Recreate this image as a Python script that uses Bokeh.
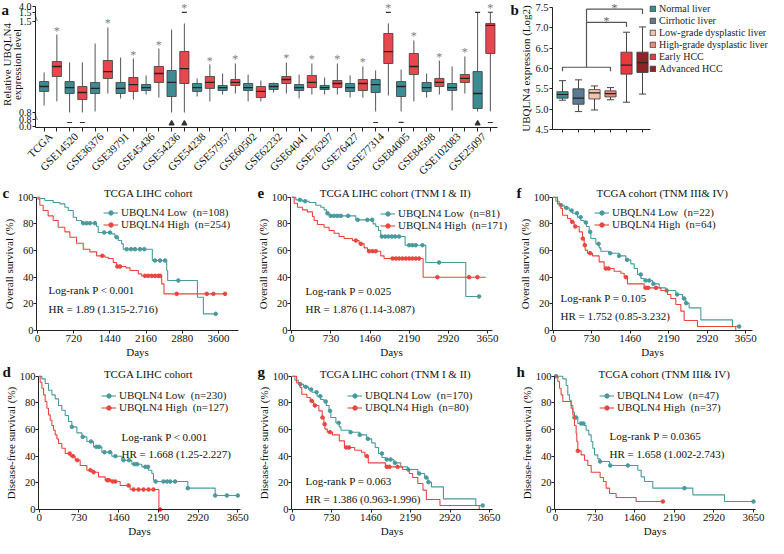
import numpy as np
from math import pi
from bokeh.plotting import figure
from bokeh.models import (FixedTicker, Label, Legend, LegendItem, PrintfTickFormatter,
                          ColumnDataSource)
from bokeh.layouts import row, column
from bokeh.embed import file_html
from bokeh.resources import INLINE
from bokeh.core.properties import value

FONT = "Liberation Serif"
TEAL = "#3d8c93"
RED = "#e8484d"
KM_TEAL = "#4a9a9c"
KM_RED = "#e8463f"

# ---------------- panel a data (relative UBQLN4 expression) ----------------
DATASETS = ["TCGA", "GSE14520", "GSE36376", "GSE39791", "GSE45436", "GSE54236",
            "GSE54238", "GSE57957", "GSE60502", "GSE62232", "GSE64041", "GSE76297",
            "GSE76427", "GSE77314", "GSE84005", "GSE84598", "GSE102083", "GSE25097"]
NORMAL_LO = [0.854, 0.800, 0.808, 0.908, 0.938, 0.800, 0.923, 0.938, 0.885, 0.954,
             0.908, 0.938, 0.915, 0.808, 0.808, 0.915, 0.815, 0.808]
NORMAL_Q1 = [0.962, 0.946, 0.946, 0.946, 0.969, 0.923, 0.962, 0.969, 0.969, 0.977,
             0.969, 0.977, 0.962, 0.954, 0.923, 0.962, 0.969, 0.831]
NORMAL_MED = [1.000, 0.992, 0.985, 0.985, 0.992, 1.031, 0.992, 0.992, 0.992, 1.000,
              0.992, 0.992, 0.992, 1.015, 1.000, 0.992, 0.992, 0.946]
NORMAL_Q3 = [1.038, 1.038, 1.031, 1.031, 1.015, 1.123, 1.023, 1.008, 1.023, 1.023,
             1.015, 1.008, 1.023, 1.054, 1.038, 1.031, 1.023, 1.115]
NORMAL_HI = [1.108, 1.185, 1.331, 1.223, 1.085, 1.438, 1.062, 1.100, 1.092, 1.031,
             1.092, 1.069, 1.085, 1.123, 1.131, 1.100, 1.154, 1.52]
TUMOR_LO = [0.885, 0.800, 0.946, 0.900, 0.915, 0.800, 0.885, 0.946, 0.885, 0.946,
            0.938, 0.938, 0.915, 0.931, 0.885, 0.938, 0.946, 0.808]
TUMOR_Q1 = [1.077, 0.900, 1.062, 0.962, 1.031, 1.023, 0.985, 1.008, 0.915, 1.023,
            0.992, 0.992, 0.969, 1.177, 1.092, 1.000, 1.031, 1.254]
TUMOR_MED = [1.154, 0.954, 1.115, 1.015, 1.100, 1.138, 1.031, 1.031, 0.962, 1.054,
             1.031, 1.023, 1.023, 1.269, 1.154, 1.031, 1.062, 1.470]
TUMOR_Q3 = [1.192, 1.000, 1.200, 1.069, 1.154, 1.269, 1.077, 1.054, 1.000, 1.077,
            1.085, 1.046, 1.054, 1.408, 1.254, 1.062, 1.092, 1.485]
TUMOR_HI = [1.400, 1.185, 1.454, 1.215, 1.292, 1.485, 1.169, 1.177, 1.046, 1.185,
            1.177, 1.177, 1.154, 1.485, 1.354, 1.200, 1.231, 1.52]
SIGNIF = [True, False, True, True, True, True, True, True, False, True,
          True, True, True, True, True, True, True, True]
OUT_DATASET = [1, 1, 5, 5, 5, 13, 13, 14, 17, 17, 17, 17]
OUT_GROUP = ["N", "T", "N", "T", "T", "N", "T", "N", "N", "N", "T", "T"]
OUT_VALUE = [0.46, 0.46, 0.34, 0.34, 1.55, 0.46, 1.55, 0.47, 0.34, 1.55, 0.46, 1.60]
OUT_MARKER = ["dash", "dash", "triangle", "triangle", "dash", "dash", "dash", "dash",
              "triangle", "dash", "dash", "dash"]
A_TICK_LABELS = ["0.0", "0.8", "0.8", "1.5", "1.5", "4.0"]

# ---------------- panel b data ----------------
B_GROUPS = ["Normal liver", "Cirrhotic liver", "Low-grade dysplastic liver",
            "High-grade dysplastic liver", "Early HCC", "Advanced HCC"]
B_LO = [5.22, 4.94, 4.98, 5.23, 5.17, 5.37]
B_Q1 = [5.27, 5.12, 5.25, 5.30, 5.86, 5.90]
B_MED = [5.36, 5.27, 5.40, 5.38, 6.08, 6.14]
B_Q3 = [5.43, 5.50, 5.48, 5.45, 6.40, 6.40]
B_HI = [5.70, 5.72, 5.57, 5.53, 6.89, 7.02]
B_COLORS = ["#3a8c90", "#5a7a95", "#f5c2ad", "#e98c77", "#e8393e", "#8d2527"]

# ---------------- Kaplan-Meier data (days, survival %) ----------------
C_LOW_T = [45, 146, 312, 445, 545, 611, 711, 777, 877, 1176, 1209, 1475, 1541, 1607, 1674,
           1707, 2285, 2571, 2590, 3182, 3301, 3547]
C_LOW_S = [99, 97.5, 96, 95, 92.5, 90, 85, 82.5, 80.5, 78, 73.5, 72.5, 70, 67.5, 65,
           61, 52.5, 45, 37.5, 25, 12.5, 12.5]
C_LOW_CENS = [910, 976, 1043, 1142, 1328, 1441, 1574, 1773, 1860, 1939, 2039, 2125, 2338,
              2438, 2537, 2803, 3547]
C_HIGH_T = [10, 46, 113, 212, 312, 412, 545, 644, 777, 910, 1043, 1176, 1342, 1408, 1508,
            1574, 1760, 1840, 2006, 2072, 2471, 2517, 3733]
C_HIGH_S = [98.5, 94, 90, 86, 82.5, 77.5, 74, 70, 65.5, 61, 59, 56, 55, 54, 51,
            48, 47, 45, 42.5, 41, 35, 27.5, 27.5]
C_HIGH_CENS = [1290, 1590, 1641, 2139, 2205, 2272, 2338, 2405, 2440, 2770, 3368, 3500, 3733]

E_LOW_T = [75, 199, 323, 448, 541, 603, 647, 696, 1194, 1517, 1567, 1617, 1660, 2114, 2500,
           3246, 3495]
E_LOW_S = [98, 97, 96, 94, 92.5, 90.5, 88, 86, 83, 80, 78, 75, 70.5, 64, 51, 25.5, 25.5]
E_LOW_CENS = [150, 250, 665, 727, 790, 852, 915, 1051, 1230, 1411, 1500, 1680, 1741, 1803,
              1865, 1927, 2002, 2189, 2251, 2313, 2438, 2748, 3495]
E_HIGH_T = [44, 106, 199, 292, 386, 417, 479, 603, 696, 790, 883, 976, 1132, 1256, 1349,
            1412, 1660, 1722, 2450, 3619]
E_HIGH_S = [95.5, 92.5, 90.5, 89, 85.5, 82.5, 79.5, 77.5, 75, 73, 70.5, 69, 67.5, 65, 62,
            59.5, 56, 54, 40, 40]
E_HIGH_CENS = [1194, 1290, 1442, 1505, 1567, 1878, 1940, 2002, 2065, 2127, 2189, 2251, 2313,
               2375, 2717, 3308, 3463]

F_LOW_T = [51, 114, 208, 303, 366, 461, 524, 587, 631, 682, 714, 808, 871, 903, 1061, 1250,
           1377, 1471, 1535, 1598, 1661, 1724, 1882, 2008, 2134, 2324, 2450, 2513, 2576,
           2798, 3397, 3524]
F_LOW_S = [97, 94, 92, 90, 88, 85, 82.5, 81, 78, 74, 69, 65, 62, 59.5, 58, 56,
           53, 50, 46.5, 42, 39, 37.5, 35, 32, 30, 27, 24, 20.5, 17, 8, 3, 3]
F_LOW_CENS = [150, 250, 350, 450, 520, 620, 700, 860, 1080, 1250, 1400, 1660, 1750, 1820,
              1900, 2150, 2350, 2480, 2520, 3524]
F_HIGH_T = [82, 145, 177, 272, 335, 398, 493, 556, 587, 606, 650, 745, 871, 966, 1156, 1282,
            1345, 1408, 1724, 2040, 2166, 2229, 2324, 2419, 2482, 2734, 3460, 3520]
F_HIGH_S = [95, 91.5, 86.5, 84, 81.5, 78, 74, 69, 64, 60.3, 58, 56, 51.5, 46.5, 44.5, 43,
            40, 35, 32, 30, 27, 24, 19.5, 14.5, 7.5, 3, 0, 0]
F_HIGH_CENS = [360, 420, 560, 600, 700, 1000, 1050, 1380, 1750, 1800, 1950]

D_LOW_T = [49, 110, 171, 233, 294, 355, 416, 478, 539, 600, 692, 784, 876, 998, 1151, 1335,
           1519, 1702, 1886, 2009, 2070, 2100, 2131, 2731, 3234, 3650]
D_LOW_S = [98, 94.5, 89.5, 86, 83, 78, 74.5, 70.5, 66, 62, 57.5, 54.5, 51, 47, 43, 40,
           37, 34, 32, 29.5, 27, 22, 21, 16, 10.5, 10.5]
D_LOW_CENS = [600, 800, 950, 1050, 1100, 1200, 1300, 1400, 1550, 1650, 1750, 1800, 1950,
              2000, 2140, 2284, 2350, 2407, 2498, 2731, 3234, 3448, 3650]
D_HIGH_T = [18, 49, 80, 110, 141, 171, 202, 233, 263, 294, 325, 355, 416, 478, 570, 661,
            753, 876, 998, 1090, 1213, 1335, 1488, 1672, 2200, 2223]
D_HIGH_S = [95.5, 91, 86, 81, 76, 71, 67, 63, 59.5, 56, 53, 49.5, 46, 42, 40, 37,
            33, 29.5, 28, 24.5, 22, 21, 18, 15, 0, 0]
D_HIGH_CENS = [560, 620, 700, 940, 1000, 1250, 1280, 1350, 1400, 1641, 1733, 1825, 1917,
               2009, 2100, 2223]

G_LOW_T, G_LOW_S, G_LOW_CENS = F_LOW_T, F_LOW_S, F_LOW_CENS
G_HIGH_T, G_HIGH_S, G_HIGH_CENS = F_HIGH_T, F_HIGH_S, F_HIGH_CENS

H_LOW_T = [135, 197, 227, 258, 289, 320, 350, 412, 535, 565, 614, 658, 688, 719, 780, 823,
           996, 1518, 1579, 1641, 1794, 2532, 3116, 3650]
H_LOW_S = [98, 93, 86, 82, 78, 73, 69, 64.5, 63, 59.5, 56, 51, 46, 41, 38, 36,
           33, 29.5, 24.5, 21, 16, 11, 6, 6]
H_LOW_CENS = [12, 350, 381, 473, 516, 823, 1010, 1333, 2378, 3650]
H_HIGH_T = [43, 74, 104, 135, 289, 320, 350, 381, 393, 412, 473, 535, 596, 658, 823, 885,
            934, 996, 1118, 1487, 1979]
H_HIGH_S = [96, 91, 86, 81, 76, 71, 63, 57, 51, 44, 41, 37, 33, 28, 24, 21,
            16, 12, 9, 6, 6]
H_HIGH_CENS = [412, 1979]


class Geo:
    """Maps positions of the reference layout (pixels) to a figure's data space."""

    def __init__(self, box, xa, xa_px, sx, ya, ya_px, sy):
        self.x0, self.x1, self.y0, self.y1 = box
        self.xa, self.xa_px, self.sx = xa, xa_px, sx
        self.ya, self.ya_px, self.sy = ya, ya_px, sy

    def x(self, px):
        return self.xa + (px - self.xa_px) / self.sx

    def y(self, py):
        return self.ya + (self.ya_px - py) / self.sy

    def make(self):
        p = figure(width=self.x1 - self.x0, height=self.y1 - self.y0,
                   x_range=(self.x(self.x0), self.x(self.x1)),
                   y_range=(self.y(self.y1), self.y(self.y0)),
                   min_border=0, min_border_left=0, min_border_right=0,
                   min_border_top=0, min_border_bottom=0,
                   output_backend="svg", toolbar_location=None)
        p.grid.visible = False
        p.outline_line_color = None
        p.background_fill_color = "white"
        p.border_fill_color = "white"
        return p


def style_axes(p, tick_size="11px"):
    for ax in (p.xaxis[0], p.yaxis[0]):
        ax.axis_line_color = "#222222"
        ax.axis_line_width = 1
        ax.major_tick_line_color = "#222222"
        ax.major_tick_out = 3
        ax.major_tick_in = 0
        ax.minor_tick_line_color = None
        ax.major_label_text_font = FONT
        ax.major_label_text_font_size = tick_size
        ax.major_label_text_color = "#111111"
        ax.major_label_standoff = 1
        ax.axis_label_text_font = FONT
        ax.axis_label_text_font_size = "11px"
        ax.axis_label_text_font_style = "normal"
        ax.axis_label_text_color = "#111111"
        ax.axis_label_standoff = 1


def text_label(p, x, y, txt, size="11px", align="left", baseline="middle", angle=0,
               bold=False, color="#111111"):
    p.add_layout(Label(x=x, y=y, text=txt, text_font=FONT, text_font_size=size,
                       text_align=align, text_baseline=baseline, angle=angle,
                       text_font_style="bold" if bold else "normal", text_color=color))


# ================= panel a =================
def disp(v):
    v = np.asarray(v, dtype=float)
    return np.where(v < 0.8, v / 0.8 * 7.0,
                    np.where(v <= 1.5, 14.0 + (v - 0.8) / 0.7 * 91.0,
                             114.0 + (v - 1.5) / 2.5 * 6.0))


ga = Geo((8, 528, 6, 186), -0.588, 43, 25.5, 0, 132, 1.0)
pa = ga.make()
style_axes(pa, "10px")
idx = np.arange(len(DATASETS))
xn = idx - 0.25
xt = idx + 0.25
for xs, lo, q1, md, q3, hi, col in [
        (xn, NORMAL_LO, NORMAL_Q1, NORMAL_MED, NORMAL_Q3, NORMAL_HI, TEAL),
        (xt, TUMOR_LO, TUMOR_Q1, TUMOR_MED, TUMOR_Q3, TUMOR_HI, RED)]:
    pa.segment(xs, disp(hi), xs, disp(q3), line_color="#555555", line_width=1)
    pa.segment(xs, disp(q1), xs, disp(lo), line_color="#555555", line_width=1)
    pa.vbar(x=xs, width=0.36, bottom=disp(q1), top=disp(q3), fill_color=col,
            line_color="#3a3a3a", line_width=0.8)
    pa.segment(xs - 0.18, disp(md), xs + 0.18, disp(md), line_color="#222222",
               line_width=1.3)

out_x = [d + (0.25 if g == "T" else -0.25) for d, g in zip(OUT_DATASET, OUT_GROUP)]
pa.scatter(x="x", y="y", marker="m", size=5, line_color="#333333", fill_color="#333333",
           line_width=1.2,
           source=ColumnDataSource(dict(x=out_x, y=disp(OUT_VALUE), m=OUT_MARKER)))

tumor_top = list(TUMOR_HI)
for d, g, v in zip(OUT_DATASET, OUT_GROUP, OUT_VALUE):
    if g == "T" and v > tumor_top[d]:
        tumor_top[d] = v
star_x = [float(xt[i]) for i in range(len(DATASETS)) if SIGNIF[i]]
star_y = [float(disp(tumor_top[i])) for i in range(len(DATASETS)) if SIGNIF[i]]
pa.text(x=star_x, y=star_y, text=["*"] * len(star_x), text_font=value(FONT),
        text_font_size="12px", text_align="center", text_baseline="top",
        text_color="#808080", y_offset=-11)

a_tick_pos = [0, 7, 14, 105, 114, 120]
pa.yaxis.ticker = FixedTicker(ticks=a_tick_pos)
pa.yaxis.major_label_overrides = {p: l for p, l in zip(a_tick_pos, A_TICK_LABELS)}
pa.yaxis.fixed_location = ga.x(43)
pa.yaxis.bounds = (-1, 120)
pa.xaxis.fixed_location = -1
pa.xaxis.bounds = (ga.x(43), ga.x(505))
pa.xaxis.ticker = FixedTicker(ticks=list(idx), minor_ticks=sorted(list(xn) + list(xt)))
pa.xaxis.major_label_overrides = {int(i): n for i, n in zip(idx, DATASETS)}
pa.xaxis.major_label_orientation = pi / 4
pa.xaxis.major_label_text_font_size = "11px"
pa.xaxis.major_tick_out = 0
pa.xaxis.minor_tick_line_color = "#222222"
pa.xaxis.minor_tick_out = 4
pa.xaxis.minor_tick_in = 0
pa.xaxis.major_label_standoff = 3
text_label(pa, ga.x(14), ga.y(70), "Relative UBQLN4", angle=pi / 2, align="center")
text_label(pa, ga.x(24.5), ga.y(70), "expression level", angle=pi / 2, align="center")
text_label(pa, ga.x(9), ga.y(7), "a", size="15px", bold=True, baseline="top")
text_label(pa, ga.x(518), ga.y(7), "b", size="15px", bold=True, baseline="top")
text_label(pa, ga.x(42), ga.y(22.5), "\\", size="11px", align="left")
text_label(pa, ga.x(42), ga.y(121.5), "\\", size="11px", align="left")

# ================= panel b =================
gb = Geo((528, 776, 6, 186), 0.375, 560, 16.0, 4.5, 135, 40.7)
pb = gb.make()
style_axes(pb, "10.5px")
bx = np.arange(1, 7)
pb.segment(bx, B_HI, bx, B_Q3, line_color="#444444", line_width=1)
pb.segment(bx, B_Q1, bx, B_LO, line_color="#444444", line_width=1)
pb.segment(bx - 0.22, B_HI, bx + 0.22, B_HI, line_color="#444444", line_width=1)
pb.segment(bx - 0.22, B_LO, bx + 0.22, B_LO, line_color="#444444", line_width=1)
b_items = []
for k in range(6):
    r = pb.vbar(x=[bx[k]], width=0.7, bottom=[B_Q1[k]], top=[B_Q3[k]],
                fill_color=B_COLORS[k], line_color="#3a3a3a", line_width=0.8)
    b_items.append(LegendItem(label=B_GROUPS[k], renderers=[r]))
pb.segment(bx - 0.35, B_MED, bx + 0.35, B_MED, line_color="#222222", line_width=1.2)
pb.multi_line(xs=[[1, 1, 4, 4], [2.5, 2.5], [2.5, 5, 5], [2.5, 6, 6]],
              ys=[[5.93, 6.03, 6.03, 5.93], [6.03, 7.46], [7.13, 7.13, 7.02],
                  [7.46, 7.46, 7.34]],
              line_color="#555555", line_width=1.2)
pb.text(x=[3.75, 4.25], y=[7.13, 7.46], text=["*", "*"], text_font=value(FONT),
        text_font_size="12px", text_align="center", text_baseline="top",
        text_color="#666666", y_offset=-8)
pb.yaxis.ticker = FixedTicker(ticks=[4.5, 5.0, 5.5, 6.0, 6.5, 7.0, 7.5])
pb.yaxis.formatter = PrintfTickFormatter(format="%.1f")
pb.yaxis.axis_label = "UBQLN4 expression (Log2)"
pb.yaxis.axis_label_standoff = 0
pb.yaxis.fixed_location = 0.375
pb.yaxis.bounds = (4.5, 7.5)
pb.xaxis.fixed_location = 4.5
pb.xaxis.bounds = (0.375, 6.5)
pb.xaxis.ticker = FixedTicker(ticks=list(bx))
pb.xaxis.major_label_overrides = {int(i): "" for i in bx}
b_leg = Legend(items=b_items, location=(657 - gb.x0, gb.y1 - 80), glyph_width=7,
               glyph_height=7, label_standoff=3, spacing=0, padding=0, margin=0,
               label_height=12, label_text_font=FONT, label_text_font_size="10px",
               label_text_color="#222222", border_line_color=None,
               background_fill_alpha=0)
pb.add_layout(b_leg)


# ================= Kaplan-Meier panels =================
def km_fig(g, axis_end_px, xticks, ylabel):
    p = g.make()
    style_axes(p, "11px")
    p.xaxis.ticker = FixedTicker(ticks=xticks)
    p.yaxis.ticker = FixedTicker(ticks=[0, 20, 40, 60, 80, 100])
    p.yaxis.major_label_text_font_size = "10.5px"
    p.yaxis.major_label_standoff = 0
    p.yaxis.axis_label_standoff = 0
    p.xaxis.axis_label = "Days"
    p.yaxis.axis_label = ylabel
    p.xaxis.fixed_location = 0
    p.yaxis.fixed_location = g.xa
    p.xaxis.bounds = (g.xa, g.x(axis_end_px))
    p.yaxis.bounds = (0, 100)
    return p


def km_curve(p, times, surv, cens, color):
    t = [0] + list(times)
    s = [100] + list(surv)
    r1 = p.step(t, s, mode="after", line_color=color, line_width=1.1)
    pos = np.searchsorted(np.array(t), np.array(cens), side="right") - 1
    cs = np.array(s)[pos]
    r2 = p.scatter(cens, cs, marker="circle", size=3.6, fill_color=color, line_color=color)
    return [r1, r2]


def km_panel(p, g, low, high, n_low, n_high, legend_px, title_px, title, letter_px, letter,
             stat_px, p_text, hr_py, hr_text):
    rl = km_curve(p, *low, KM_TEAL)
    rh = km_curve(p, *high, KM_RED)
    loc = (legend_px[0] - g.x0, g.y1 - legend_px[1])
    leg = Legend(items=[LegendItem(label="UBQLN4 Low  (n=%d)" % n_low, renderers=rl),
                        LegendItem(label="UBQLN4 High  (n=%d)" % n_high, renderers=rh)],
                 location=loc, glyph_width=15, glyph_height=11, label_standoff=3,
                 spacing=0, padding=0, margin=0, label_height=11,
                 label_text_font=FONT, label_text_font_size="11px",
                 label_text_color="#222222", border_line_color=None,
                 background_fill_alpha=0)
    p.add_layout(leg)
    text_label(p, g.x(title_px[0]), g.y(title_px[1]), title, align="center")
    text_label(p, g.x(letter_px[0]), g.y(letter_px[1]), letter, size="15px", bold=True)
    text_label(p, g.x(stat_px[0]), g.y(stat_px[1]), p_text)
    text_label(p, g.x(stat_px[0]), g.y(hr_py), hr_text)


TICKS_720 = [0, 720, 1440, 2160, 2880, 3600]
TICKS_730 = [0, 730, 1460, 2190, 2920, 3650]

gc = Geo((2, 258, 190, 373), -20, 38, 0.05025, 0, 340, 1.333)
pc = km_fig(gc, 240, TICKS_720, "Overall survival (%)")
km_panel(pc, gc, (C_LOW_T, C_LOW_S, C_LOW_CENS), (C_HIGH_T, C_HIGH_S, C_HIGH_CENS), 108, 254,
         (105, 240), (150, 202), "TCGA LIHC cohort", (4, 202), "c",
         (50, 299), "Log-rank P < 0.001", 318, "HR = 1.89 (1.315-2.716)")

ge = Geo((264, 520, 190, 373), -24, 298, 0.0536, 0, 340, 1.333)
pe = km_fig(ge, 500, TICKS_730, "Overall survival (%)")
km_panel(pe, ge, (E_LOW_T, E_LOW_S, E_LOW_CENS), (E_HIGH_T, E_HIGH_S, E_HIGH_CENS), 81, 171,
         (388, 241), (403, 202), "TCGA LIHC cohort (TNM I & II)", (265, 202), "e",
         (313, 300), "Log-rank P = 0.025", 318, "HR = 1.876 (1.14-3.087)")

gf = Geo((520, 776, 190, 373), -13, 560, 0.05277, 0, 340, 1.333)
pf = km_fig(gf, 760, TICKS_730, "Overall survival (%)")
km_panel(pf, gf, (F_LOW_T, F_LOW_S, F_LOW_CENS), (F_HIGH_T, F_HIGH_S, F_HIGH_CENS), 22, 64,
         (602, 240), (670, 202), "TCGA cohort (TNM III& IV)", (524, 202), "f",
         (568, 307), "Log-rank P = 0.105", 325, "HR = 1.752 (0.85-3.232)")

gd = Geo((2, 258, 378, 553), -13, 40, 0.05441, 0, 524, 1.333)
pd_ = km_fig(gd, 242, TICKS_730, "Disease-free survival (%)")
km_panel(pd_, gd, (D_LOW_T, D_LOW_S, D_LOW_CENS), (D_HIGH_T, D_HIGH_S, D_HIGH_CENS), 230, 127,
         (103, 428), (150, 388), "TCGA LIHC cohort", (4, 386), "d",
         (123, 451), "Log-rank P < 0.001", 468, "HR = 1.668 (1.25-2.227)")

gg = Geo((264, 520, 378, 553), -13, 299, 0.05405, 0, 524, 1.333)
pg = km_fig(gg, 500, TICKS_730, "Disease-free survival (%)")
km_panel(pg, gg, (G_LOW_T, G_LOW_S, G_LOW_CENS), (G_HIGH_T, G_HIGH_S, G_HIGH_CENS), 170, 80,
         (355, 428), (403, 388), "TCGA LIHC cohort (TNM I & II)", (265, 386), "g",
         (313, 495), "Log-rank P = 0.063", 513, "HR = 1.386 (0.963-1.996)")

gh = Geo((520, 776, 378, 553), -18, 562, 0.05425, 0, 524, 1.333)
ph = km_fig(gh, 763, TICKS_730, "Disease-free survival (%)")
km_panel(ph, gh, (H_LOW_T, H_LOW_S, H_LOW_CENS), (H_HIGH_T, H_HIGH_S, H_HIGH_CENS), 47, 37,
         (607, 428), (672, 388), "TCGA cohort (TNM III& IV)", (524, 386), "h",
         (617, 450), "Log-rank P = 0.0365", 468, "HR = 1.658 (1.002-2.743)")

layout = column(row(pa, pb), row(pc, pe, pf), row(pd_, pg, ph))
open("out.html", "w").write(file_html(layout, INLINE, title="UBQLN4 figure"))
